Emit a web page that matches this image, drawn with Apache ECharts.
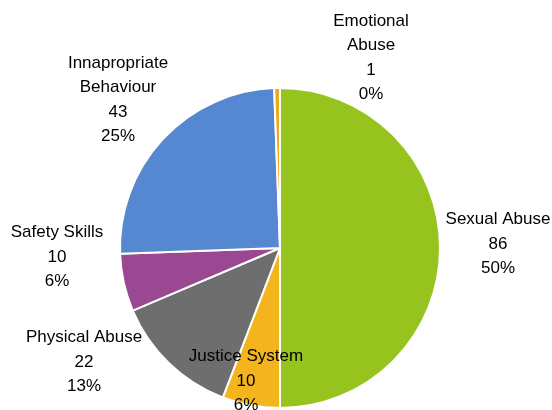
<!DOCTYPE html>
<html><head><meta charset="utf-8">
<script src="https://cdn.jsdelivr.net/npm/echarts@6/dist/echarts.min.js"></script>
<style>html,body{margin:0;padding:0;background:#fff}#c{width:552px;height:410px}</style>
</head><body><div id="c"></div>
<script>
const categories = ['Sexual Abuse', 'Justice System', 'Physical Abuse', 'Safety Skills', 'Innapropriate\nBehaviour', 'Emotional\nAbuse'];
const values = [86, 10, 22, 10, 43, 1];
const percentLabels = ['50%', '6%', '13%', '6%', '25%', '0%'];
const colors = ['#97C31F', '#F4B41E', '#6E6E6E', '#9A4891', '#5588D1', '#F2A81C'];
const labelPos = [[498, 244], [246, 381], [84, 362], [57, 257], [118, 100], [371, 58]];

const chart = echarts.init(document.getElementById('c'), null, {renderer: 'canvas'});
chart.setOption({
  animation: false,
  backgroundColor: '#ffffff',
  series: [{
    type: 'pie',
    center: [280, 248],
    radius: 160,
    startAngle: 90,
    clockwise: true,
    avoidLabelOverlap: false,
    data: categories.map((n, i) => ({name: n, value: values[i], itemStyle: {color: colors[i]}})),
    itemStyle: {borderColor: '#ffffff', borderWidth: 2},
    label: {
      show: true,
      position: 'outside',
      fontFamily: '"Liberation Sans", Arial, sans-serif',
      fontSize: 17,
      lineHeight: 24.5,
      color: '#000',
      align: 'center',
      formatter: p => p.name + '\n' + p.value + '\n' + percentLabels[p.dataIndex]
    },
    labelLine: {show: false},
    labelLayout: p => ({x: labelPos[p.dataIndex][0], y: labelPos[p.dataIndex][1], align: 'center', verticalAlign: 'middle'})
  }]
});
</script></body></html>
